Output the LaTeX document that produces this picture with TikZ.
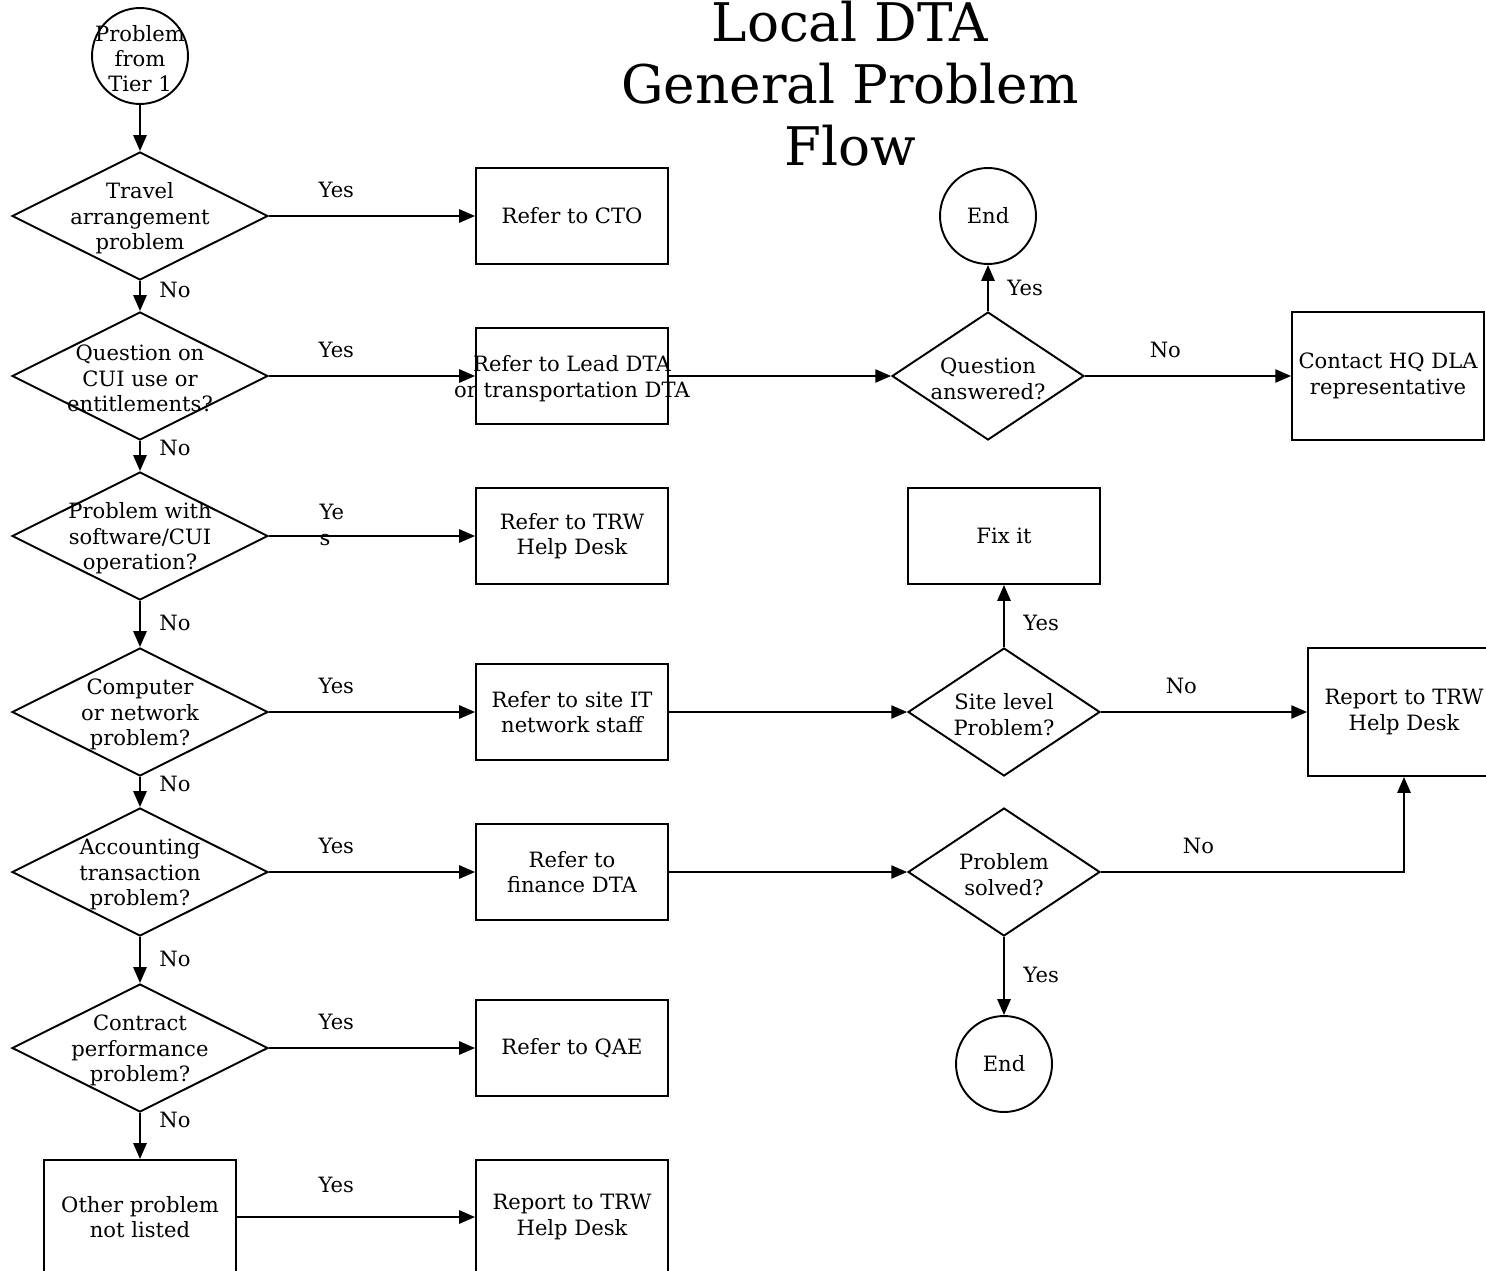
\documentclass[tikz,border=0pt]{standalone}
\usepackage{fontspec}
\setmainfont{DejaVu Serif}
\usepackage{tikz}
\usetikzlibrary{shapes,arrows.meta,positioning}

\begin{document}
\begin{tikzpicture}[
    x=0.02cm, y=-0.02cm,
    font=\fontsize{12}{14.5}\selectfont,
    line width=1.1pt,
    decision/.style={diamond, draw, inner sep=0pt, minimum width=5.12cm, minimum height=2.56cm},
    smalldecision/.style={decision, minimum width=3.84cm},
    terminal/.style={circle, draw, inner sep=0pt, minimum size=1.92cm},
    process/.style={rectangle, draw, align=center, inner sep=2pt, minimum width=3.84cm, minimum height=1.92cm},
    txt/.style={label={[align=center, yshift=-1.5pt]center:#1}},
    lbl/.style={inner sep=2pt},
    arrow/.style={->, >={Triangle[length=9pt, width=7.5pt]}}
]
\useasboundingbox (0,0) rectangle (1486,1270);

% Title
\node[font=\fontsize{30.3}{35.2}\selectfont, align=center] (title) at (850,84) {Local DTA\\General Problem\\Flow};

% Left column: questions
\node[terminal, txt={Problem\\from\\Tier 1}] (start) at (140,56) {};
\node[decision, txt={Travel\\arrangement\\problem}] (d1) at (140,216) {};
\node[decision, txt={Question on\\CUI use or\\entitlements?}] (d2) at (140,376) {};
\node[decision, txt={Problem with\\software/CUI\\operation?}] (d3) at (140,536) {};
\node[decision, txt={Computer\\or network\\problem?}] (d4) at (140,712) {};
\node[decision, txt={Accounting\\transaction\\problem?}] (d5) at (140,872) {};
\node[decision, txt={Contract\\performance\\problem?}] (d6) at (140,1048) {};
\node[process, minimum height=2.28cm] (other) at (140,1217) {Other problem\\not listed};

% Middle column: referrals
\node[process] (cto) at (572,216) {Refer to CTO};
\node[process, txt={Refer to Lead DTA\\or transportation DTA}] (lead) at (572,376) {};
\node[process] (trw) at (572,536) {Refer to TRW\\Help Desk};
\node[process] (siteit) at (572,712) {Refer to site IT\\network staff};
\node[process] (finance) at (572,872) {Refer to\\finance DTA};
\node[process] (qae) at (572,1048) {Refer to QAE};
\node[process, minimum height=2.28cm] (report1) at (572,1217) {Report to TRW\\Help Desk};

% Right side
\node[terminal] (end1) at (988,216) {End};
\node[smalldecision, txt={Question\\answered?}] (answered) at (988,376) {};
\node[process, minimum height=2.56cm] (contact) at (1388,376) {Contact HQ DLA\\representative};
\node[process] (fix) at (1004,536) {Fix it};
\node[smalldecision, txt={Site level\\Problem?}] (site) at (1004,712) {};
\node[process, minimum height=2.56cm] (report2) at (1404,712) {Report to TRW\\Help Desk};
\node[smalldecision, txt={Problem\\solved?}] (solved) at (1004,872) {};
\node[terminal] (end2) at (1004,1064) {End};

% No branches
\draw[arrow] (start) -- (d1);
\draw[arrow] (d1) -- node[lbl, pos=0.31, right=0.3cm] {No} (d2);
\draw[arrow] (d2) -- node[lbl, pos=0.22, right=0.3cm] {No} (d3);
\draw[arrow] (d3) -- node[lbl, pos=0.48, right=0.3cm] {No} (d4);
\draw[arrow] (d4) -- node[lbl, pos=0.22, right=0.3cm] {No} (d5);
\draw[arrow] (d5) -- node[lbl, pos=0.48, right=0.3cm] {No} (d6);
\draw[arrow] (d6) -- node[lbl, pos=0.15, right=0.3cm] {No} (other);

% Yes branches
\draw[arrow] (d1) -- node[lbl, pos=0.327, above=0.27cm] {Yes} (cto);
\draw[arrow] (d2) -- node[lbl, pos=0.327, above=0.27cm] {Yes} (lead);
\draw[arrow] (d3) -- node[lbl, pos=0.305, yshift=0.22cm, align=left] {Ye\\s} (trw);
\draw[arrow] (d4) -- node[lbl, pos=0.327, above=0.27cm] {Yes} (siteit);
\draw[arrow] (d5) -- node[lbl, pos=0.327, above=0.27cm] {Yes} (finance);
\draw[arrow] (d6) -- node[lbl, pos=0.327, above=0.27cm] {Yes} (qae);
\draw[arrow] (other) -- node[lbl, pos=0.417, above=0.4cm] {Yes} (report1);

% Follow-ups
\draw[arrow] (lead) -- (answered);
\draw[arrow] (answered) -- node[lbl, pos=0.5, right=0.3cm] {Yes} (end1);
\draw[arrow] (answered) -- node[lbl, pos=0.39, above=0.27cm] {No} (contact);
\draw[arrow] (siteit) -- (site);
\draw[arrow] (site) -- node[lbl, pos=0.39, right=0.3cm] {Yes} (fix);
\draw[arrow] (site) -- node[lbl, pos=0.39, above=0.27cm] {No} (report2);
\draw[arrow] (finance) -- (solved);
\draw[arrow] (solved) -| node[lbl, pos=0.161, above=0.27cm] {No} (report2);
\draw[arrow] (solved) -- node[lbl, pos=0.49, right=0.3cm] {Yes} (end2);

\end{tikzpicture}
\end{document}
